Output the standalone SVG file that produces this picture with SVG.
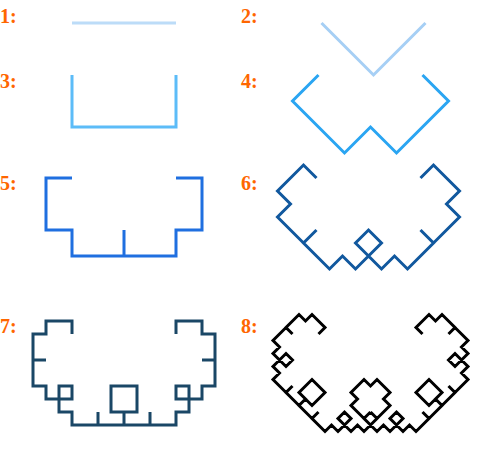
<svg xmlns="http://www.w3.org/2000/svg" width="501" height="449" viewBox="0 0 501 449">
<style>
.lbl{font-family:"Liberation Serif","Times New Roman",serif;font-weight:bold;font-size:20px;fill:#ff6600}
.c{fill:none;stroke-width:3;stroke-linejoin:miter;stroke-linecap:butt}
</style>
<rect width="501" height="449" fill="#ffffff"/>
<g id="labels">
<text class="lbl" x="0" y="23">1:</text>
<text class="lbl" x="241" y="23">2:</text>
<text class="lbl" x="0" y="88">3:</text>
<text class="lbl" x="241" y="88">4:</text>
<text class="lbl" x="0" y="190">5:</text>
<text class="lbl" x="241" y="190">6:</text>
<text class="lbl" x="0" y="333">7:</text>
<text class="lbl" x="241" y="333">8:</text>
</g>
<g id="curves">
<path id="level1" class="c" stroke="#bcdcf8" d="M72 23 h104"/>
<path id="level2" class="c" stroke="#a6cff5" d="M321.5 23 l52 52 l52 -52"/>
<path id="level3" class="c" stroke="#5cbcf8" d="M72 75 v52 h104 v-52"/>
<path id="level4" class="c" stroke="#2aa5f2" d="M318.5 75 l-26 26 l26 26 l26 26 l26 -26 l26 26 l26 -26 l26 -26 l-26 -26"/>
<path id="level5" class="c" stroke="#1f6fe0" d="M72 178 h-26 v26 v26 h26 v26 h26 h26 v-26 v26 h26 h26 v-26 h26 v-26 v-26 h-26"/>
<path id="level6" class="c" stroke="#11589e" d="M316.5 178 l-13 -13 l-13 13 l-13 13 l13 13 l-13 13 l13 13 l13 13 l13 -13 l-13 13 l13 13 l13 13 l13 -13 l13 13 l13 -13 l13 -13 l-13 -13 l-13 13 l13 13 l13 13 l13 -13 l13 13 l13 -13 l13 -13 l-13 -13 l13 13 l13 -13 l13 -13 l-13 -13 l13 -13 l-13 -13 l-13 -13 l-13 13"/>
<path id="level7" class="c" stroke="#1a4766" d="M72 334 v-13 h-13 h-13 v13 h-13 v13 v13 h13 h-13 v13 v13 h13 v13 h13 h13 v-13 h-13 v13 v13 h13 v13 h13 h13 v-13 v13 h13 h13 v-13 h13 v-13 v-13 h-13 h-13 v13 v13 h13 v13 h13 h13 v-13 v13 h13 h13 v-13 h13 v-13 v-13 h-13 v13 h13 h13 v-13 h13 v-13 v-13 h-13 h13 v-13 v-13 h-13 v-13 h-13 h-13 v13"/>
<path id="level8" class="c" stroke="#000000" d="M318.5 334
l6.5-6.5 l-6.5-6.5 l-6.5-6.5 l-6.5 6.5 l-6.5-6.5 l-6.5 6.5 l-6.5 6.5 l6.5 6.5
l-6.5-6.5 l-6.5 6.5 l-6.5 6.5 l6.5 6.5 l-6.5 6.5 l6.5 6.5 l6.5 6.5 l6.5-6.5
l-6.5-6.5 l-6.5 6.5 l-6.5 6.5 l6.5 6.5 l-6.5 6.5 l6.5 6.5 l6.5 6.5 l6.5-6.5
l-6.5 6.5 l6.5 6.5 l6.5 6.5 l6.5-6.5 l6.5 6.5 l6.5-6.5 l6.5-6.5 l-6.5-6.5
l-6.5-6.5 l-6.5 6.5 l-6.5 6.5 l6.5 6.5 l-6.5 6.5 l6.5 6.5 l6.5 6.5 l6.5-6.5
l-6.5 6.5 l6.5 6.5 l6.5 6.5 l6.5-6.5 l6.5 6.5 l6.5-6.5 l6.5-6.5 l-6.5-6.5
l-6.5 6.5 l6.5 6.5 l6.5 6.5 l6.5-6.5 l6.5 6.5 l6.5-6.5 l6.5-6.5 l-6.5-6.5
l6.5 6.5 l6.5-6.5 l6.5-6.5 l-6.5-6.5 l6.5-6.5 l-6.5-6.5 l-6.5-6.5 l-6.5 6.5
l-6.5-6.5 l-6.5 6.5 l-6.5 6.5 l6.5 6.5 l-6.5 6.5 l6.5 6.5 l6.5 6.5 l6.5-6.5
l-6.5 6.5 l6.5 6.5 l6.5 6.5 l6.5-6.5 l6.5 6.5 l6.5-6.5 l6.5-6.5 l-6.5-6.5
l-6.5 6.5 l6.5 6.5 l6.5 6.5 l6.5-6.5 l6.5 6.5 l6.5-6.5 l6.5-6.5 l-6.5-6.5
l6.5 6.5 l6.5-6.5 l6.5-6.5 l-6.5-6.5 l6.5-6.5 l-6.5-6.5 l-6.5-6.5 l-6.5 6.5
l-6.5 6.5 l6.5 6.5 l6.5 6.5 l6.5-6.5 l6.5 6.5 l6.5-6.5 l6.5-6.5 l-6.5-6.5
l6.5 6.5 l6.5-6.5 l6.5-6.5 l-6.5-6.5 l6.5-6.5 l-6.5-6.5 l-6.5-6.5 l-6.5 6.5
l6.5 6.5 l6.5-6.5 l6.5-6.5 l-6.5-6.5 l6.5-6.5 l-6.5-6.5 l-6.5-6.5 l-6.5 6.5
l6.5-6.5 l-6.5-6.5 l-6.5-6.5 l-6.5 6.5 l-6.5-6.5 l-6.5 6.5 l-6.5 6.5 l6.5 6.5"/>
</g>
</svg>
